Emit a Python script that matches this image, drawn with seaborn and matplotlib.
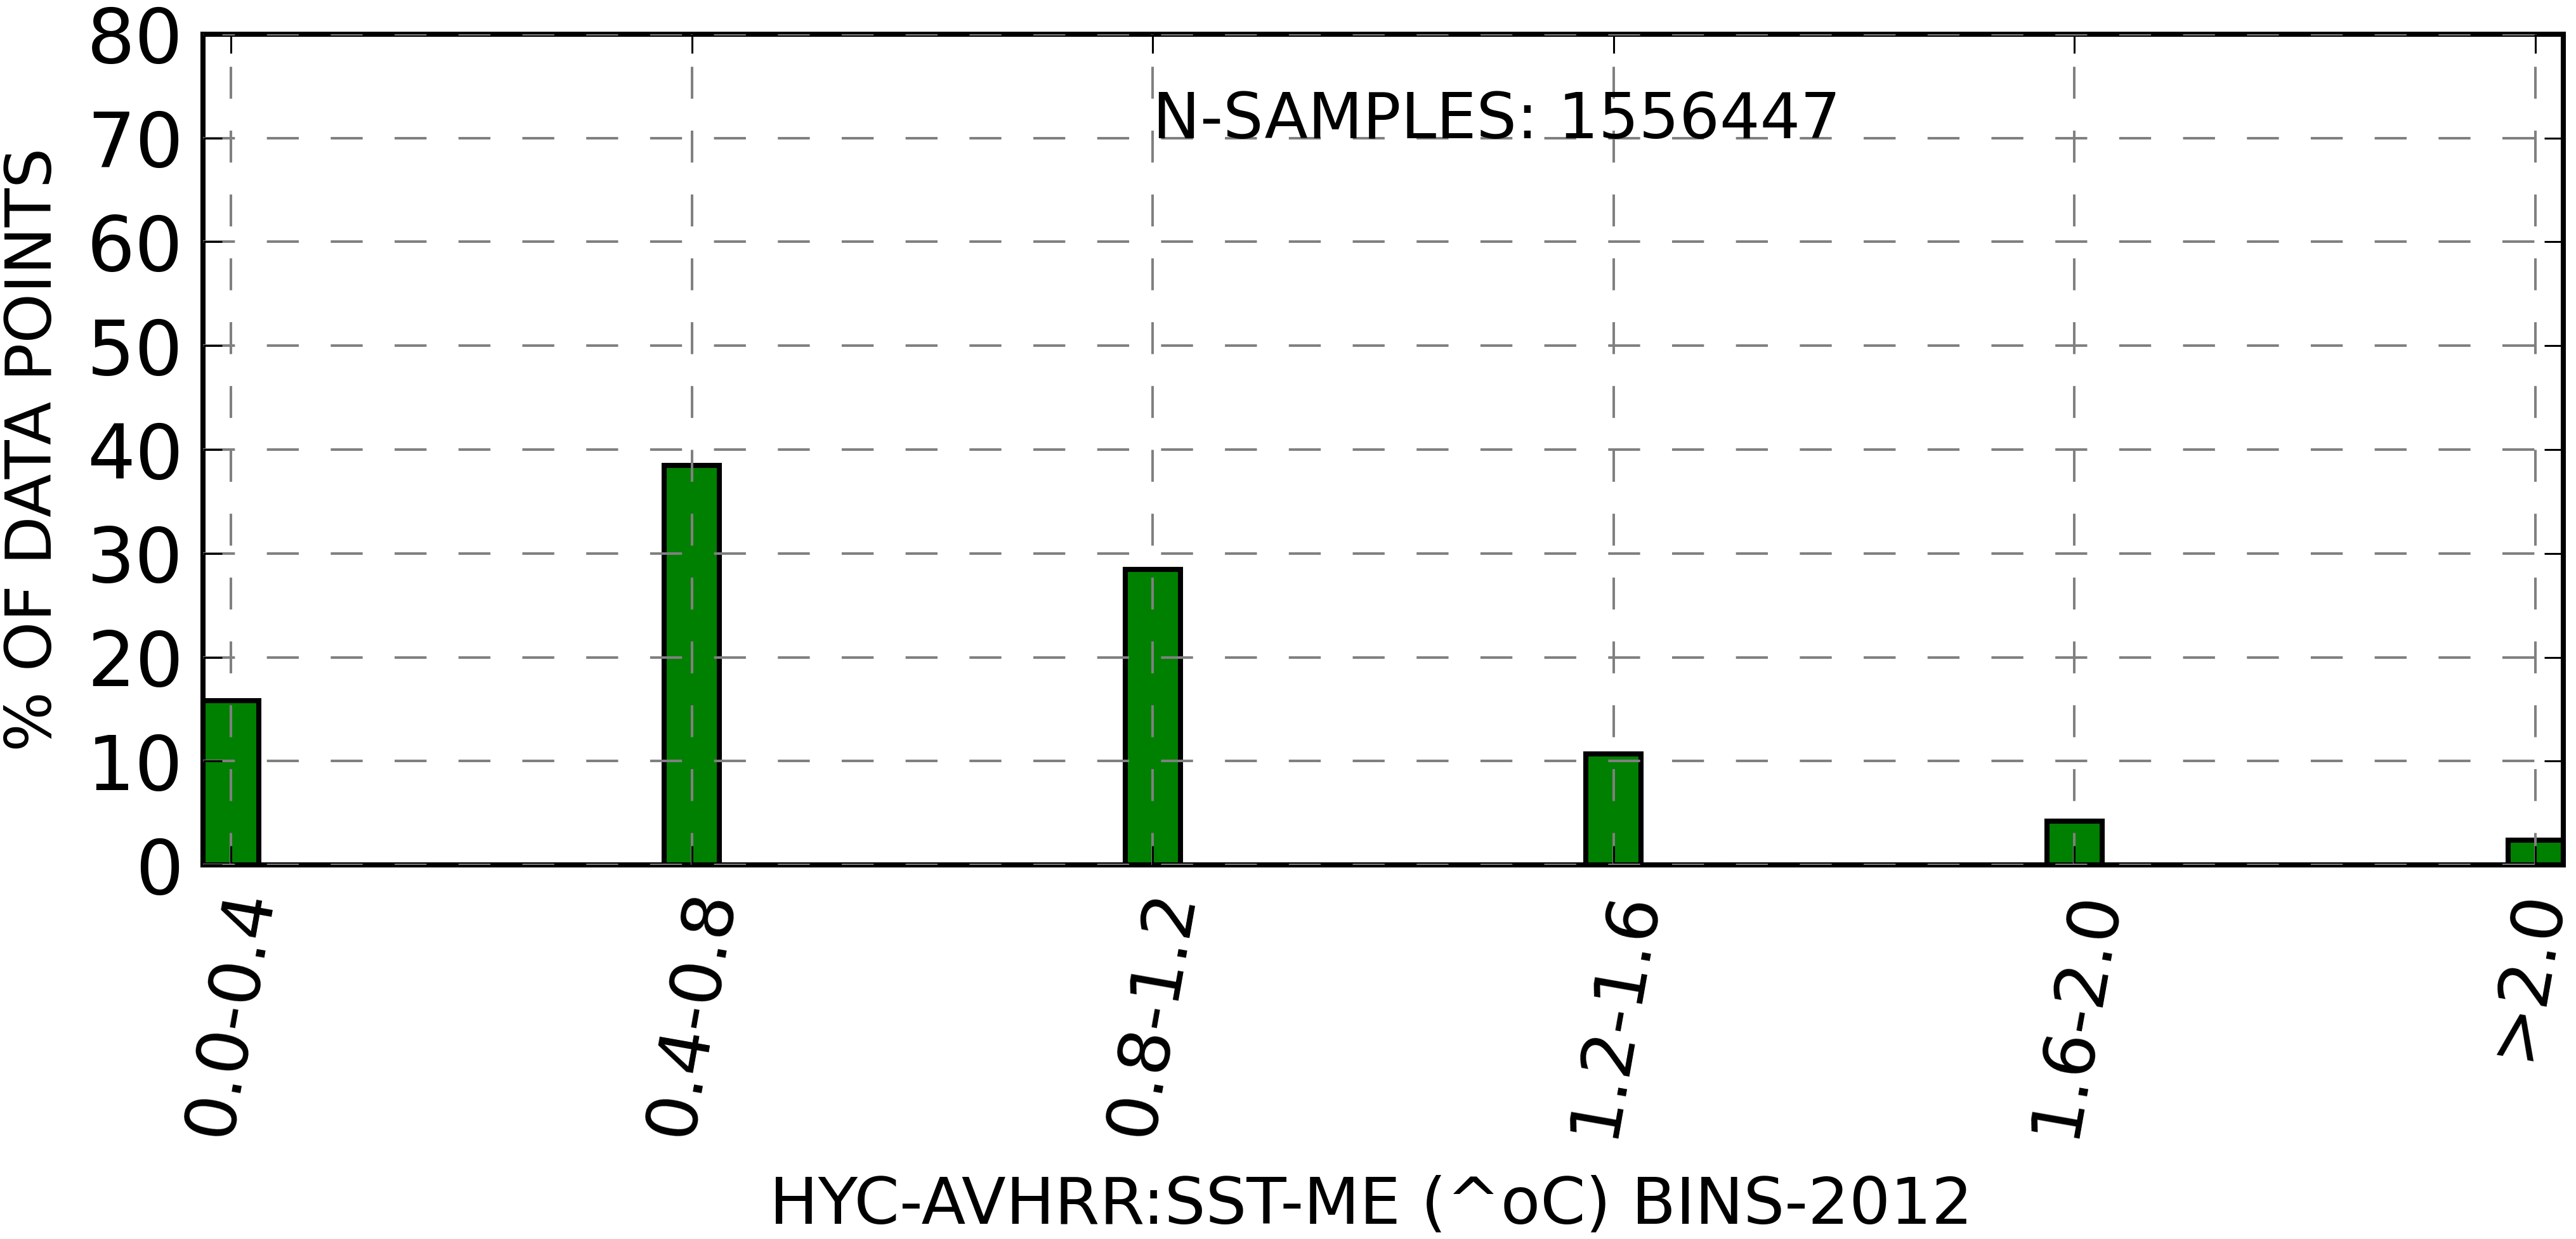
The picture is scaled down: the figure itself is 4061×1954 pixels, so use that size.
import matplotlib
matplotlib.use("Agg")
import matplotlib.pyplot as plt
import matplotlib.transforms as mtransforms
import seaborn as sns

# bins of the SST mean error and % of data points in each
BIN_LABELS = ['0.0-0.4', '0.4-0.8', '0.8-1.2', '1.2-1.6', '1.6-2.0', '>2.0']
PCT_POINTS = [15.8, 38.5, 28.45, 10.7, 4.2, 2.4]
N_SAMPLES = 1556447
Y_TICKS = [0, 10, 20, 30, 40, 50, 60, 70, 80]

BAR_W = 0.12

sns.set_style('white')
plt.rcParams['font.family'] = ['DejaVu Sans']
plt.rcParams['text.color'] = 'black'
plt.rcParams['axes.labelcolor'] = 'black'
plt.rcParams['xtick.color'] = 'black'
plt.rcParams['ytick.color'] = 'black'

fig = plt.figure(figsize=(40.61, 19.54), dpi=100)
ax = fig.add_axes([0.0789, 0.3019, 0.9161, 0.6705])

sns.barplot(x=BIN_LABELS, y=PCT_POINTS, ax=ax, color='green', saturation=1,
            width=BAR_W, edgecolor='black', linewidth=5.8)

ax.set_xlim(-BAR_W / 2, len(BIN_LABELS) - 1 + BAR_W / 2)
ax.set_ylim(0, 80)
ax.set_yticks(Y_TICKS)
ax.set_xticks(range(len(BIN_LABELS)))
ax.set_xticklabels(BIN_LABELS, rotation=80)

ax.set_axisbelow(False)
ax.grid(True, color='#808080', linestyle=(0, (12.5, 12.5)), linewidth=2.9)

for sp in ax.spines.values():
    sp.set_visible(True)
    sp.set_color('black')
    sp.set_linewidth(5.8)

ax.tick_params(axis='both', direction='in', length=21.6, width=2.2, color='black',
               labelcolor='black', top=True, bottom=True, left=True, right=True)
ax.tick_params(axis='y', labelsize=86, pad=22.7)
ax.tick_params(axis='x', labelsize=80, pad=22)

# last label sits on the right edge, nudge it in so it isn't clipped
last = ax.get_xticklabels()[-1]
last.set_transform(last.get_transform() +
                   mtransforms.ScaledTranslation(-0.15, 0, fig.dpi_scale_trans))

ax.set_xlabel('HYC-AVHRR:SST-ME (^oC) BINS-2012', fontsize=73.5, color='black')
ax.set_ylabel('% OF DATA POINTS', fontsize=72, color='black')
ax.xaxis.set_label_coords(0.4948, -0.3725)
ax.yaxis.set_label_coords(-0.0588, 0.5)

ax.text(2, 70, 'N-SAMPLES: %d' % N_SAMPLES, fontsize=72, color='black')

fig.savefig('out.png', dpi=100)
plt.close(fig)
